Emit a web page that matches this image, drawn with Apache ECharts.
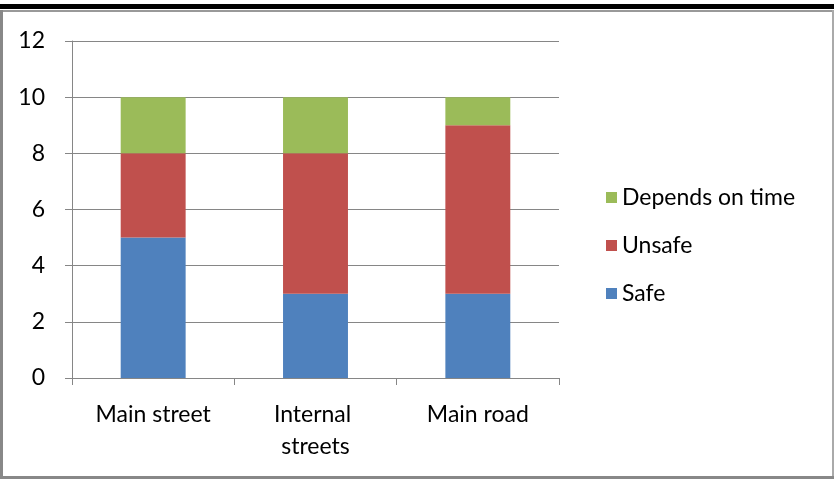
<!DOCTYPE html>
<html><head><meta charset="utf-8">
<script src="https://cdn.jsdelivr.net/npm/echarts@6/dist/echarts.min.js"></script>
<style>html,body{margin:0;padding:0;background:#fff}#c{width:834px;height:479px}</style>
</head><body><div id="c"></div>
<script>
const categories = ['Main street', 'Internal streets', 'Main road'];
const safe = [5, 3, 3];
const unsafe = [3, 5, 6];
const dependsOnTime = [2, 2, 1];
const yTicks = { min: 0, max: 12, interval: 2 };

const chart = echarts.init(document.getElementById('c'), null, { renderer: 'canvas' });
const font = 'Lato, "Open Sans", sans-serif';
const gray = '#868686';
chart.setOption({
  animation: false,
  backgroundColor: '#fff',
  textStyle: { fontFamily: font },
  grid: { left: 72, top: 41, width: 487, height: 337, containLabel: false },
  legend: {
    orient: 'vertical', left: 601, top: 181,
    data: ['Depends on time', 'Unsafe', 'Safe'],
    itemWidth: 11, itemHeight: 11, itemGap: 25,
    icon: 'rect',
    textStyle: { fontSize: 23, color: '#000', fontFamily: font }
  },
  xAxis: {
    type: 'category', data: categories,
    axisLine: { lineStyle: { color: gray, width: 1 } },
    axisTick: { show: true, length: 7, lineStyle: { color: gray } },
    axisLabel: { color: '#000', fontSize: 23, margin: 21, width: 135, overflow: 'break', lineHeight: 32, interval: 0 }
  },
  yAxis: {
    type: 'value', min: yTicks.min, max: yTicks.max, interval: yTicks.interval,
    axisLine: { show: true, lineStyle: { color: gray, width: 1 } },
    axisTick: { show: true, length: 7, lineStyle: { color: gray } },
    splitLine: { lineStyle: { color: gray, width: 1 } },
    axisLabel: { color: '#000', fontSize: 23, margin: 27 }
  },
  series: [
    { name: 'Safe', type: 'bar', stack: 's', data: safe, barWidth: '40%', itemStyle: { color: '#4F81BD' } },
    { name: 'Unsafe', type: 'bar', stack: 's', data: unsafe, itemStyle: { color: '#C0504D' } },
    { name: 'Depends on time', type: 'bar', stack: 's', data: dependsOnTime, itemStyle: { color: '#9BBB59' } }
  ],
  graphic: [
    { type: 'rect', shape: { x: 0, y: 4, width: 834, height: 5 }, style: { fill: '#000' }, silent: true },
    { type: 'rect', shape: { x: 0, y: 10, width: 834, height: 2 }, style: { fill: '#999' }, silent: true },
    { type: 'rect', shape: { x: 0, y: 10, width: 3, height: 469 }, style: { fill: '#888' }, silent: true },
    { type: 'rect', shape: { x: 832, y: 10, width: 2, height: 469 }, style: { fill: '#aaa' }, silent: true },
    { type: 'rect', shape: { x: 0, y: 476, width: 834, height: 3 }, style: { fill: '#888' }, silent: true }
  ]
});
</script></body></html>
